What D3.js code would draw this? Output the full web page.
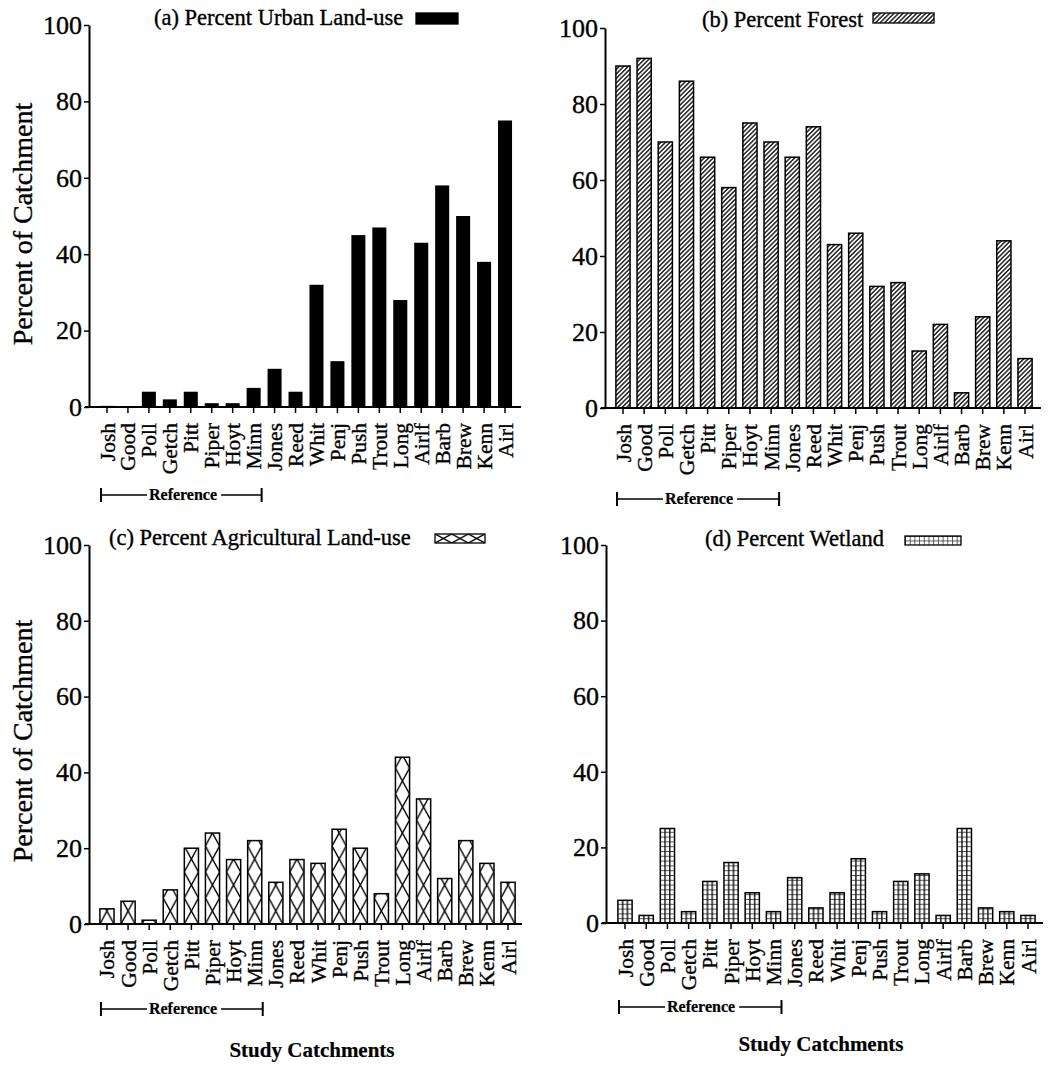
<!DOCTYPE html>
<html>
<head>
<meta charset="utf-8">
<script src="https://cdn.jsdelivr.net/npm/d3@7"></script>
<style>
  body { margin: 0; background: #fff; }
  svg { display: block; font-family: "Liberation Serif", "Times New Roman", serif; }
  /* the scanned figure has heavy type */
  text { stroke: #000; stroke-width: 0.35px; }
</style>
</head>
<body>
<svg id="chart" width="1064" height="1067"></svg>
<script>
// data
const catchments = ["Josh", "Good", "Poll", "Getch", "Pitt", "Piper", "Hoyt", "Minn", "Jones", "Reed",
  "Whit", "Penj", "Push", "Trout", "Long", "Airlf", "Barb", "Brew", "Kenn", "Airl"];
const urbanPct = [0.3, 0.2, 4, 2, 4, 1, 1, 5, 10, 4, 32, 12, 45, 47, 28, 43, 58, 50, 38, 75];
const forestPct = [90, 92, 70, 86, 66, 58, 75, 70, 66, 74, 43, 46, 32, 33, 15, 22, 4, 24, 44, 13];
const agriculturePct = [4, 6, 1, 9, 20, 24, 17, 22, 11, 17, 16, 25, 20, 8, 44, 33, 12, 22, 16, 11];
const wetlandPct = [6, 2, 25, 3, 11, 16, 8, 3, 12, 4, 8, 17, 3, 11, 13, 2, 25, 4, 3, 2];
const yTicks = [0, 20, 40, 60, 80, 100];
const referenceGroup = ["Josh", "Minn"];

const svg = d3.select("#chart");
const defs = svg.append("defs");

// layout of the four panels (pixel positions)
const panels = [
  { id: "a", title: "(a) Percent Urban Land-use", values: urbanPct, fill: "solid",
    axisX: 89, y0: 407, y100: 25, band: [96.5, 515.5], axisEnd: 521,
    titleX: 154, titleY: 25, swatch: [416, 13, 42, 11], bracketY: 495, yTitleY: 224 },
  { id: "b", title: "(b) Percent Forest", values: forestPct, fill: "hatch",
    axisX: 605, y0: 408, y100: 28, band: [612.4, 1035.6], axisEnd: 1041,
    titleX: 702, titleY: 27, swatch: [873, 13, 61, 10], bracketY: 499 },
  { id: "c", title: "(c) Percent Agricultural Land-use", values: agriculturePct, fill: "cross",
    axisX: 89, y0: 924, y100: 545, band: [96.4, 518.6], axisEnd: 522,
    titleX: 109, titleY: 545, swatch: [435, 534, 50, 9], bracketY: 1009, yTitleY: 741, xTitle: [312, 1057] },
  { id: "d", title: "(d) Percent Wetland", values: wetlandPct, fill: "grid",
    axisX: 606, y0: 923, y100: 545, band: [614.4, 1038.6], axisEnd: 1043,
    titleX: 705, titleY: 546, swatch: [905, 536, 56, 9], bracketY: 1007, xTitle: [821, 1051] }
];

function newPattern(id, x, y, w, h, transform) {
  const pat = defs.append("pattern").attr("id", id)
    .attr("patternUnits", "userSpaceOnUse")
    .attr("x", x).attr("y", y).attr("width", w).attr("height", h);
  if (transform) pat.attr("patternTransform", transform);
  pat.append("rect").attr("width", w).attr("height", h).attr("fill", "#fff");
  return pat;
}

function addLine(pat, x1, y1, x2, y2, sw) {
  pat.append("line").attr("x1", x1).attr("y1", y1).attr("x2", x2).attr("y2", y2)
    .attr("stroke", "#000").attr("stroke-width", sw);
}

// fills for the bars and for the small legend swatch
function makeFills(p, x) {
  const bw = x.bandwidth(), step = x.step(), x0 = x(catchments[0]);
  const [sx, sy, sw, sh] = p.swatch;
  if (p.fill === "solid") return { bar: "#000", swatch: "#000" };
  if (p.fill === "hatch") {
    const pat = newPattern("hatch-" + p.id, 0, 0, 3.2, 10, "rotate(45)");
    addLine(pat, 1.6, 0, 1.6, 10, 1.3);
    return { bar: "url(#hatch-" + p.id + ")", swatch: "url(#hatch-" + p.id + ")" };
  }
  if (p.fill === "cross") {
    const h = 26;
    const pat = newPattern("cross-" + p.id, x0, p.y0, step, h);
    addLine(pat, 0, 0, bw, h, 1.4);
    addLine(pat, bw, 0, 0, h, 1.4);
    const lw = sw / 3;
    const leg = newPattern("crossleg-" + p.id, sx, sy, lw, sh);
    addLine(leg, 0, 0, lw, sh, 1.4);
    addLine(leg, lw, 0, 0, sh, 1.4);
    return { bar: "url(#cross-" + p.id + ")", swatch: "url(#crossleg-" + p.id + ")" };
  }
  // grid
  const gh = 4.8;
  const pat = newPattern("grid-" + p.id, x0, p.y0, step, gh);
  addLine(pat, 0, 0, step, 0, 1.3);
  addLine(pat, bw / 3, 0, bw / 3, gh, 1.3);
  addLine(pat, 2 * bw / 3, 0, 2 * bw / 3, gh, 1.3);
  const leg = newPattern("gridleg-" + p.id, sx, sy, 4.7, sh / 2);
  addLine(leg, 0, 0, 4.7, 0, 1.2);
  addLine(leg, 0, 0, 0, sh / 2, 1.2);
  return { bar: "url(#grid-" + p.id + ")", swatch: "url(#gridleg-" + p.id + ")" };
}

panels.forEach(p => {
  const x = d3.scaleBand()
    .domain(catchments)
    .range(p.band)
    .paddingInner(0.33)
    .paddingOuter(0.165);
  const y = d3.scaleLinear().domain([0, 100]).range([p.y0, p.y100]);
  const bw = x.bandwidth();
  const fills = makeFills(p, x);
  const g = svg.append("g").attr("class", "panel-" + p.id);

  // bars
  g.selectAll("rect.bar")
    .data(catchments.map((c, i) => ({ c: c, v: p.values[i] })))
    .join("rect")
    .attr("class", "bar")
    .attr("x", d => x(d.c))
    .attr("y", d => y(d.v))
    .attr("width", bw)
    .attr("height", d => y(0) - y(d.v))
    .attr("fill", fills.bar)
    .attr("stroke", p.fill === "solid" ? "none" : "#000")
    .attr("stroke-width", 1.5);

  // y axis
  const ya = g.append("g")
    .attr("transform", "translate(" + p.axisX + ",0)")
    .call(d3.axisLeft(y).tickValues(yTicks).tickSize(5).tickPadding(2).tickSizeOuter(0));
  ya.select(".domain").attr("stroke-width", 2);
  ya.selectAll(".tick line").attr("stroke-width", 1.5);
  ya.selectAll("text")
    .attr("font-family", "Liberation Serif")
    .attr("font-size", 26)
    .attr("fill", "#000");

  // x axis
  const xa = g.append("g")
    .attr("transform", "translate(0," + p.y0 + ")")
    .call(d3.axisBottom(x).tickSize(6).tickSizeOuter(0));
  xa.select(".domain").attr("d", "M" + (p.axisX - 4) + ",0H" + p.axisEnd).attr("stroke-width", 2);
  xa.selectAll(".tick line").attr("stroke-width", 1.5);
  xa.selectAll("text")
    .attr("font-family", "Liberation Serif")
    .attr("font-size", 21.5)
    .attr("fill", "#000")
    .attr("x", -16)
    .attr("y", 0)
    .attr("dy", "0.35em")
    .attr("transform", "rotate(-90)")
    .style("text-anchor", "end");

  // panel title and legend swatch
  g.append("text")
    .attr("x", p.titleX).attr("y", p.titleY)
    .attr("font-size", 22.5)
    .text(p.title);
  g.append("rect")
    .attr("x", p.swatch[0]).attr("y", p.swatch[1])
    .attr("width", p.swatch[2]).attr("height", p.swatch[3])
    .attr("fill", fills.swatch)
    .attr("stroke", "#000").attr("stroke-width", 1.3);

  // "Reference" bracket under the reference catchments
  const bx0 = x(referenceGroup[0]) + bw / 2 - 6;
  const bx1 = x(referenceGroup[1]) + bw / 2 + 8;
  const by = p.bracketY;
  const br = g.append("g").attr("class", "bracket");
  const lbl = br.append("text")
    .attr("x", bx0 + 48).attr("y", by + 5)
    .attr("font-size", 16).attr("font-weight", "bold")
    .style("stroke-width", "0.2px")
    .text("Reference");
  const tEnd = bx0 + 48 + lbl.node().getComputedTextLength();
  [[bx0, bx0 + 46], [tEnd + 4, bx1]].forEach(s => {
    br.append("line").attr("x1", s[0]).attr("x2", s[1]).attr("y1", by).attr("y2", by)
      .attr("stroke", "#000").attr("stroke-width", 1.6);
  });
  [bx0, bx1].forEach(bx => {
    br.append("line").attr("x1", bx).attr("x2", bx).attr("y1", by - 7).attr("y2", by + 7)
      .attr("stroke", "#000").attr("stroke-width", 2);
  });

  if (p.yTitleY) {
    g.append("text")
      .attr("transform", "translate(32," + p.yTitleY + ") rotate(-90)")
      .attr("text-anchor", "middle")
      .attr("font-size", 28)
      .text("Percent of Catchment");
  }
  if (p.xTitle) {
    g.append("text")
      .attr("x", p.xTitle[0]).attr("y", p.xTitle[1])
      .attr("text-anchor", "middle")
      .attr("font-size", 21).attr("font-weight", "bold")
      .style("stroke-width", "0.2px")
      .text("Study Catchments");
  }
});
</script>
</body>
</html>
